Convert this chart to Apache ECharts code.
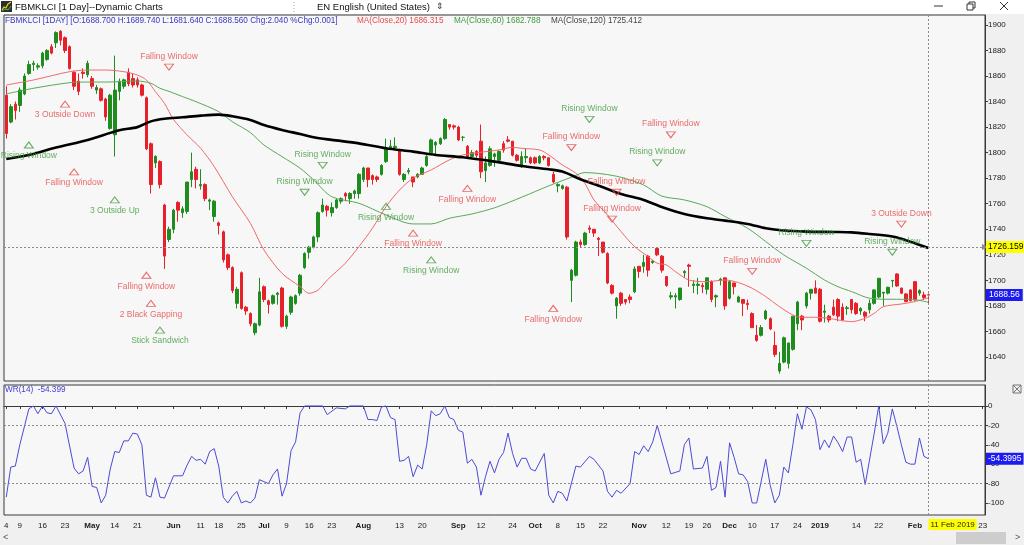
<!DOCTYPE html>
<html><head><meta charset="utf-8">
<script src="https://cdn.jsdelivr.net/npm/echarts@6/dist/echarts.min.js"></script>
<style>html,body{margin:0;padding:0;background:#f0f0f0;}#c{width:1024px;height:545px;}</style>
</head><body><div id="c"></div>
<script>
// daily candles, FBMKLCI Apr 2018 - 11 Feb 2019: [open, high, low, close]
const candles = [
[1845,1852,1811,1815],[1824,1838,1823,1836],[1838,1840,1826,1833],[1837,1851,1832,1849],[1846,1862,1845,1860],
[1862,1872,1861,1869],[1869,1872,1864,1870],[1867,1870,1865,1868],[1868,1879,1866,1878],[1873,1881,1872,1880],
[1883,1885,1877,1878],[1886,1895,1882,1894],[1895,1896,1884,1888],[1890,1891,1878,1880],[1883,1884,1865,1866],
[1863,1864,1849,1852],[1856,1862,1845,1848],[1863,1866,1858,1862],[1861,1872,1859,1870],[1858,1860,1850,1852],
[1849,1853,1846,1851],[1850,1851,1840,1841],[1842,1843,1825,1828],[1819,1846,1818,1845],[1814,1876,1797,1849],
[1848,1858,1841,1856],[1852,1858,1850,1857],[1863,1866,1852,1854],[1858,1862,1851,1853],[1857,1859,1851,1853],
[1853,1854,1844,1845],[1843,1844,1802,1803],[1807,1808,1768,1775],[1792,1798,1788,1797],[1793,1794,1772,1775],
[1759,1760,1709,1719],[1732,1742,1730,1740],[1740,1756,1737,1755],[1761,1762,1746,1755],[1753,1758,1749,1756],
[1754,1777,1752,1777],[1779,1800,1773,1785],[1787,1789,1772,1779],[1774,1787,1771,1775],[1775,1776,1762,1764],
[1762,1764,1755,1763],[1750,1763,1746,1762],[1745,1746,1736,1743],[1738,1739,1714,1716],[1720,1721,1708,1710],
[1710,1711,1690,1692],[1682,1695,1678,1693],[1706,1707,1677,1678],[1679,1680,1673,1676],[1674,1675,1664,1666],
[1659,1667,1657,1666],[1665,1702,1664,1691],[1695,1696,1683,1685],[1684,1685,1674,1681],[1682,1689,1681,1688],
[1689,1691,1681,1690],[1694,1695,1663,1664],[1664,1673,1662,1672],[1675,1688,1673,1687],[1682,1689,1681,1688],
[1690,1705,1688,1704],[1710,1722,1709,1721],[1722,1727,1717,1726],[1726,1735,1725,1734],[1734,1754,1730,1753],
[1754,1764,1753,1759],[1758,1759,1750,1755],[1753,1761,1750,1757],[1757,1764,1756,1763],[1762,1765,1760,1764],
[1768,1769,1762,1766],[1764,1769,1760,1768],[1768,1771,1764,1770],[1768,1784,1764,1783],[1779,1789,1777,1788],
[1788,1788,1773,1779],[1782,1783,1775,1779],[1781,1782,1777,1779],[1783,1791,1782,1790],[1793,1811,1792,1803],
[1804,1810,1803,1805],[1804,1812,1803,1805],[1802,1803,1782,1783],[1779,1784,1777,1783],[1785,1788,1783,1786],
[1781,1781,1773,1777],[1781,1784,1780,1783],[1783,1789,1783,1788],[1790,1798,1789,1797],[1800,1811,1799,1810],
[1806,1809,1798,1808],[1807,1812,1806,1811],[1811,1827,1810,1826],[1822,1822,1818,1820],[1821,1822,1818,1820],
[1820,1821,1809,1810],[1812,1813,1809,1812],[1805,1806,1796,1797],[1797,1802,1796,1800],[1801,1802,1796,1798],
[1809,1822,1780,1785],[1786,1797,1777,1792],[1790,1805,1789,1803],[1797,1800,1789,1799],[1794,1802,1792,1801],
[1807,1809,1800,1802],[1810,1813,1808,1809],[1809,1809,1797,1798],[1798,1799,1793,1794],[1789,1801,1788,1797],
[1796,1803,1792,1797],[1796,1797,1791,1792],[1796,1797,1791,1792],[1792,1798,1791,1797],[1797,1798,1794,1796],
[1796,1796,1789,1790],[1783,1785,1776,1777],[1774,1776,1769,1775],[1772,1775,1771,1774],[1773,1774,1732,1734],
[1700,1709,1683,1708],[1704,1731,1703,1730],[1730,1732,1726,1728],[1728,1738,1727,1737],[1741,1743,1737,1740],
[1740,1740,1734,1737],[1733,1734,1719,1732],[1730,1730,1721,1722],[1721,1722,1697,1698],[1696,1697,1689,1690],
[1680,1687,1670,1686],[1690,1691,1680,1682],[1685,1685,1681,1683],[1687,1689,1682,1685],[1691,1711,1690,1709],
[1711,1711,1702,1707],[1711,1720,1706,1714],[1719,1720,1703,1708],[1714,1716,1713,1715],[1725,1726,1719,1720],
[1719,1720,1706,1708],[1703,1703,1695,1696],[1687,1691,1685,1688],[1687,1690,1678,1688],[1685,1694,1684,1694],
[1706,1708,1702,1707],[1712,1713,1695,1711],[1696,1700,1690,1697],[1696,1702,1689,1697],[1696,1698,1690,1695],
[1693,1702,1689,1702],[1699,1700,1683,1685],[1687,1689,1679,1688],[1700,1702,1696,1701],[1702,1702,1677,1680],
[1686,1700,1685,1699],[1698,1698,1689,1695],[1683,1688,1683,1687],[1685,1685,1672,1682],[1682,1685,1677,1681],
[1674,1675,1663,1663],[1657,1665,1652,1653],[1657,1665,1656,1663],[1670,1677,1669,1676],[1670,1671,1661,1662],
[1649,1660,1640,1642],[1629,1644,1627,1635],[1636,1656,1635,1655],[1635,1651,1631,1651],[1646,1672,1645,1672],
[1666,1684,1661,1683],[1672,1673,1661,1669],[1680,1691,1678,1690],[1690,1693,1685,1693],[1694,1700,1690,1690],
[1693,1694,1667,1668],[1675,1681,1667,1676],[1672,1673,1667,1669],[1679,1685,1672,1673],[1685,1686,1668,1672],
[1679,1682,1668,1669],[1678,1680,1673,1678.5],[1685,1685,1674,1677],[1682,1683,1673,1674],[1676,1679,1673,1678],
[1675,1676,1668,1672],[1677,1685,1674,1682],[1682,1693,1681,1692.5],[1687,1702,1686,1701.6],[1690,1691,1680,1690.6],
[1690,1695,1689,1694.6],[1699.6,1700.3,1694.6,1700],[1705,1705.5,1695,1695.6],[1694,1694.2,1689.4,1690],[1689.4,1690,1683,1683.4],
[1692.5,1693,1683.5,1684.1],[1699,1699.5,1684.2,1684.7],[1690,1693,1688,1692],[1688.6,1691.2,1684.7,1686.52],[1688.70,1689.74,1681.64,1688.56]
];
// moving averages: [candle index, value]
const ma20 = [[0,1853],[6,1856.9],[14,1863.4],[18,1864.7],[22,1864.7],[26,1863.4],[29,1860.8],[31,1856.9],[33,1847.8],[35,1838.6],[37,1826],[40,1813.9],[43,1803.4],[46,1789.1],[50,1765.6],[54,1744.7],[57,1723.8],[61,1705.5],[65,1695.1],[67,1689.9],[69,1692.5],[71,1700.3],[73,1706.8],[75,1713.4],[78,1726.4],[81,1740.8],[84,1757.7],[87,1770.8],[90,1780],[94,1786.5],[98,1794.3],[101,1798.2],[106,1800.8],[109,1802.1],[112,1804.2],[114,1803.4],[118,1802.1],[120,1798.2],[123,1790.4],[126,1783.9],[128,1776],[130,1763],[133,1751.2],[136,1738.2],[139,1726.4],[142,1718.6],[144,1713.4],[146,1712.1],[148,1706.9],[151,1700.3],[155,1699],[159,1700.3],[162,1698.2],[165,1693.8],[168,1687.3],[171,1679.5],[174,1672.9],[176,1671.1],[179,1671.1],[182,1670.3],[184,1669],[187,1667.7],[190,1670.3],[192,1674.2],[194,1679.4],[198,1681.5],[201,1683.4],[204,1686.315]];
const ma60 = [[0,1846],[6,1850.4],[14,1854.8],[18,1855.3],[22,1855.3],[29,1856.1],[32,1854.3],[34,1850.4],[36,1848],[39,1843.9],[42,1839.9],[47,1832.1],[50,1824.3],[54,1815.7],[57,1806],[61,1796.9],[65,1787.8],[68,1778.6],[72,1765.5],[78,1760.4],[84,1751.2],[90,1744.2],[94,1744.2],[98,1748.6],[103,1752],[108,1756.8],[114,1765.1],[120,1774],[125,1780.7],[128,1784.4],[132,1783.3],[136,1780.7],[141,1774.7],[145,1766],[150,1763],[155,1757.7],[159,1750],[164,1740.8],[168,1730.4],[172,1719.9],[177,1709.5],[181,1700.3],[184,1695],[187,1691.2],[191,1686],[196,1685.2],[200,1685.2],[204,1682.788]];
const ma120 = [[0,1795],[6,1799],[11,1804],[18,1810],[25,1817.5],[29,1820],[32,1824.5],[35,1826.5],[39,1827.7],[43,1829],[47,1829.8],[50,1828.5],[54,1825.6],[57,1821.7],[61,1817.8],[65,1814.6],[68,1812],[72,1810],[78,1807.3],[84,1803.4],[90,1800.8],[95,1798.2],[101,1796.4],[108,1793],[114,1789.6],[120,1787],[123,1785.2],[127,1779.2],[132,1772.9],[136,1767.7],[141,1763],[145,1757.5],[150,1752],[155,1748.6],[159,1746.8],[164,1744.2],[168,1740.8],[172,1739],[177,1738.2],[183,1737.9],[187,1737.6],[191,1736.3],[196,1734.3],[200,1730.3],[204,1725.412]];
// Williams %R (14)
const wr14 = [[0,-94],[1,-63],[2,-62],[3,-40],[5,-3],[6,0],[7,-8],[8,0],[9,-7],[10,-8],[11,0],[13,-18],[15,-64],[16,-70],[17,-67],[18,-53],[19,-83],[20,-84],[21,-100],[22,-92],[23,-65],[24,-47],[25,-48],[26,-36],[27,-36],[28,-28],[29,-29],[30,-40],[31,-92],[32,-94],[33,-74],[34,-94],[35,-95],[37,-72],[39,-72],[40,-61],[41,-52],[42,-56],[43,-55],[44,-60],[45,-47],[46,-44],[47,-62],[48,-94],[49,-100],[50,-93],[51,-88],[52,-100],[53,-98],[54,-100],[55,-95],[56,-76],[57,-78],[58,-80],[59,-71],[60,-65],[61,-93],[62,-80],[63,-46],[64,-37],[65,-7],[66,0],[70,0],[71,-9],[73,-2],[75,-3],[76,0],[79,0],[80,-14],[81,-14],[82,-15],[83,-1],[84,0],[85,-12],[86,-14],[87,-57],[88,-56],[89,-52],[90,-73],[91,-61],[92,-65],[93,-40],[94,-5],[95,-10],[96,-8],[97,0],[98,-12],[99,-14],[100,-25],[101,-27],[102,-59],[103,-55],[104,-63],[105,-92],[106,-73],[107,-57],[108,-69],[109,-55],[110,-48],[111,-28],[112,-49],[113,-63],[114,-54],[115,-54],[116,-65],[117,-67],[119,-49],[120,-92],[121,-100],[122,-88],[123,-90],[124,-98],[126,-62],[127,-63],[129,-52],[130,-55],[132,-67],[133,-88],[134,-94],[135,-87],[136,-90],[138,-80],[139,-47],[140,-50],[141,-41],[142,-47],[143,-37],[144,-20],[147,-70],[149,-67],[150,-40],[151,-33],[152,-65],[154,-64],[155,-52],[156,-87],[157,-84],[158,-57],[159,-94],[160,-38],[161,-53],[162,-70],[163,-71],[164,-78],[165,-100],[166,-100],[168,-55],[169,-82],[170,-100],[171,-92],[172,-63],[173,-69],[174,-40],[175,-8],[176,-24],[177,-1],[178,-4],[179,-14],[180,-45],[181,-35],[182,-43],[183,-31],[184,-38],[185,-47],[186,-32],[187,-32],[188,-58],[189,-55],[190,-81],[192,-28],[193,0],[194,-39],[195,-28],[196,-3],[197,-21],[198,-40],[199,-58],[200,-60],[201,-60],[202,-33],[203,-52],[204,-54.3995]];
// candlestick pattern marks: [name, candle index, price, bullish, direction(1 = below bar, -1 = above bar)]
const patterns = [
['Rising Window',5,1806,1,1],['3 Outside Down',13,1838,0,1],['Falling Window',15,1785,0,1],['3 Outside Up',24,1763,1,1],
['Falling Window',36,1867,0,-1],['Falling Window',31,1704,0,1],['2 Black Gapping',32,1682,0,1],['Stick Sandwich',34,1661,1,1],
['Rising Window',70,1790,1,-1],['Rising Window',66,1769,1,-1],['Rising Window',84,1758,1,1],['Falling Window',90,1737,0,1],
['Rising Window',94,1716,1,1],['Falling Window',102,1772,0,1],['Rising Window',129,1826,1,-1],['Falling Window',125,1804,0,-1],
['Falling Window',147,1814,0,-1],['Rising Window',144,1792,1,-1],['Falling Window',135,1769,0,-1],['Falling Window',134,1748,0,-1],
['Falling Window',121,1678,0,1],['Falling Window',165,1707,0,-1],['Rising Window',177,1729,1,-1],['3 Outside Down',198,1744,0,-1],
['Rising Window',196,1722,1,-1]
];
const tickIdx  = [0,3,8,13,19,24,29,37,43,47,52,57,62,67,72,79,87,92,100,105,112,117,122,127,132,140,146,151,155,160,165,170,175,180,188,193,201,216];
const tickText = ['4','9','16','23','May','14','21','Jun','11','18','25','Jul','9','16','23','Aug','13','20','Sep','12','24','Oct','8','15','22','Nov','12','19','26','Dec','10','17','24','2019','14','22','Feb','23'];
const boldTicks = ['May','Jun','Jul','Aug','Sep','Oct','Nov','Dec','2019','Feb'];
const priceTicks = [1640,1660,1680,1700,1720,1740,1760,1780,1800,1820,1840,1860,1880,1900];
const wrTicks = [0,-20,-40,-60,-80,-100];
const slotCount = 217;
const cursorIndex = 204, cursorDate = '11 Feb 2019', cursorPrice = 1726.159;

const FONT = '"Liberation Sans", Arial, sans-serif';
const UP = '#1f8c1f', DOWN = '#e8202a', PRED = '#e5484a', PGREEN = '#3d9a3d';
const cats = Array.from({length: slotCount}, (_, i) => i);
const last = candles[candles.length - 1], prev = candles[candles.length - 2];
const chg = last[3] - prev[3];
const f3 = v => (Math.trunc(Math.round(v * 10000) / 10) / 1000).toFixed(3);
const headerText = `FBMKLCI [1DAY] [O:${f3(last[0])} H:${f3(last[1])} L:${f3(last[2])} C:${f3(last[3])} Chg:${f3(chg)} %Chg:${f3(chg / prev[3])}]`;
const lastOf = a => a[a.length - 1][1];
const wrLast = lastOf(wr14);

function endMark(arr, color) {
  return arr.map((p, i) => i === arr.length - 1 ? {value: p, symbol: 'emptyCircle', symbolSize: 4, itemStyle: {color: color, borderColor: color}} : p);
}
const patternData = patterns.map(p => {
  const col = p[3] ? PGREEN : PRED, up = p[4] > 0;
  return {value: [p[1], p[2]], name: p[0], symbolRotate: up ? 0 : 180,
    itemStyle: {color: 'rgba(0,0,0,0)', borderColor: col, borderWidth: 1},
    label: {show: true, position: up ? 'bottom' : 'top', distance: 3, color: col, formatter: p[0], fontSize: 8.5, fontFamily: FONT}};
});
const dash = {color: '#8a8a8a', type: [2, 2], width: 1};
const txt = (x, y, text, fill, size, extra) => Object.assign({type: 'text', x: x, y: y, silent: true,
  style: {text: text, fill: fill, fontSize: size || 8.3, fontFamily: FONT, align: 'left', verticalAlign: 'middle'}}, extra || {});

const chart = echarts.init(document.getElementById('c'));
chart.setOption({
  animation: false,
  backgroundColor: '#f0f0f0',
  grid: [
    {left: 4, top: 15, width: 981, height: 366, show: true, backgroundColor: '#f7f7f7', borderColor: '#3a3a3a', borderWidth: 1},
    {left: 4, top: 385, width: 981, height: 130, show: true, backgroundColor: '#f7f7f7', borderColor: '#3a3a3a', borderWidth: 1}
  ],
  xAxis: [
    {type: 'category', gridIndex: 0, data: cats, boundaryGap: true, axisLine: {show: false}, axisTick: {show: false}, axisLabel: {show: false}, splitLine: {show: false}},
    {type: 'category', gridIndex: 1, data: cats, boundaryGap: true,
      axisLine: {show: true, lineStyle: {color: '#3a3a3a'}},
      axisTick: {show: true, length: 3, alignWithLabel: true, interval: i => tickIdx.includes(i), lineStyle: {color: '#3a3a3a'}},
      axisLabel: {interval: i => tickIdx.includes(i), margin: 7, fontSize: 8, fontFamily: FONT, color: '#1a1a1a',
        formatter: (v, i) => { const t = tickText[tickIdx.indexOf(i)]; return t === undefined ? '' : (boldTicks.includes(t) ? '{b|' + t + '}' : t); },
        rich: {b: {fontWeight: 'bold', fontSize: 8, fontFamily: FONT, color: '#1a1a1a'}}},
      splitLine: {show: false}}
  ],
  yAxis: [
    {type: 'value', gridIndex: 0, position: 'right', min: 1621.2, max: 1907.8, scale: true, splitLine: {show: false},
      axisLine: {show: true, lineStyle: {color: '#3a3a3a'}},
      axisTick: {show: true, length: 3, customValues: priceTicks, lineStyle: {color: '#3a3a3a'}},
      axisLabel: {customValues: priceTicks, formatter: v => String(v), fontSize: 8, fontFamily: FONT, color: '#1a1a1a', margin: 3}},
    {type: 'value', gridIndex: 1, position: 'right', min: -112.4, max: 21.6, splitLine: {show: false},
      axisLine: {show: true, lineStyle: {color: '#3a3a3a'}},
      axisTick: {show: true, length: 3, customValues: wrTicks, lineStyle: {color: '#3a3a3a'}},
      axisLabel: {customValues: wrTicks, formatter: v => String(v), fontSize: 8, fontFamily: FONT, color: '#1a1a1a', margin: 3}}
  ],
  series: [
    {type: 'candlestick', name: 'FBMKLCI', xAxisIndex: 0, yAxisIndex: 0, barWidth: 3,
      data: candles.map(c => [c[0], c[3], c[2], c[1]]),
      itemStyle: {color: UP, color0: DOWN, borderColor: UP, borderColor0: DOWN, borderWidth: 1},
      markLine: {silent: true, symbol: ['none', 'none'], animation: false,
        data: [
          {xAxis: cursorIndex, lineStyle: dash, label: {show: false}},
          {yAxis: last[3], lineStyle: {color: 'rgba(0,0,0,0)'}, label: {show: true, position: 'end', distance: 1, formatter: last[3].toFixed(2),
            backgroundColor: '#1c1cf0', color: '#fff', padding: [2, 3, 1, 3], fontSize: 8.5, fontFamily: FONT}}
        ]}},
    {type: 'line', name: 'MA20', xAxisIndex: 0, yAxisIndex: 0, data: endMark(ma20, '#4a4ae0'), symbol: 'none', smooth: 0.3,
      lineStyle: {color: '#f06a6a', width: 1}, itemStyle: {color: '#f06a6a'}},
    {type: 'line', name: 'MA60', xAxisIndex: 0, yAxisIndex: 0, data: endMark(ma60, '#4aa04a'), symbol: 'none', smooth: 0.3,
      lineStyle: {color: '#5aa85a', width: 1}, itemStyle: {color: '#5aa85a'}},
    {type: 'line', name: 'MA120', xAxisIndex: 0, yAxisIndex: 0, data: endMark(ma120, '#555'), symbol: 'none', smooth: 0.3,
      lineStyle: {color: '#000', width: 2.6}, itemStyle: {color: '#000'},
      markLine: {silent: true, symbol: ['none', 'triangle'], symbolSize: 6, animation: false,
        data: [{yAxis: cursorPrice, lineStyle: dash, label: {show: true, position: 'end', distance: 1, formatter: cursorPrice.toFixed(3),
          backgroundColor: '#ffff00', color: '#000', padding: [2, 2, 1, 2], fontSize: 8.5, fontFamily: FONT}}]}},
    {type: 'scatter', name: 'Patterns', xAxisIndex: 0, yAxisIndex: 0, symbol: 'triangle', symbolSize: [9, 6], data: patternData, z: 5},
    {type: 'line', name: 'WR(14)', xAxisIndex: 1, yAxisIndex: 1, data: endMark(wr14, '#4a4ae0'), symbol: 'none',
      lineStyle: {color: '#4b4bd6', width: 1}, itemStyle: {color: '#4b4bd6'},
      markLine: {silent: true, symbol: ['none', 'none'], animation: false,
        data: [
          {yAxis: -20, lineStyle: dash, label: {show: false}},
          {yAxis: -80, lineStyle: dash, label: {show: false}},
          {xAxis: cursorIndex, lineStyle: dash, label: {show: true, position: 'start', distance: 4, formatter: cursorDate, align: 'left',
            backgroundColor: '#ffff00', color: '#222', padding: [2, 2, 1, 2], fontSize: 8, fontFamily: FONT}},
          {yAxis: wrLast, lineStyle: {color: 'rgba(0,0,0,0)'}, label: {show: true, position: 'end', distance: 1, formatter: String(wrLast),
            backgroundColor: '#1c1cf0', color: '#fff', padding: [2, 2, 1, 2], fontSize: 8.5, fontFamily: FONT}}
        ]}}
  ],
  graphic: [
    {type: 'rect', shape: {x: 0, y: 0, width: 1024, height: 14}, style: {fill: '#ffffff'}, silent: true},
    {type: 'rect', shape: {x: 1, y: 1, width: 11, height: 11}, style: {fill: '#2e2e2e'}, silent: true},
    {type: 'polyline', shape: {points: [[2, 10], [4, 7], [6, 8], [8, 4], [11, 2]]}, style: {stroke: '#f2d21a', lineWidth: 1.2, fill: null}, silent: true},
    {type: 'polyline', shape: {points: [[2, 11], [5, 9], [8, 10], [11, 6]]}, style: {stroke: '#3cc03c', lineWidth: 1, fill: null}, silent: true},
    txt(15, 7, 'FBMKLCI [1 Day]--Dynamic Charts', '#111', 9.5),
    {type: 'line', shape: {x1: 294, y1: 2, x2: 294, y2: 13}, style: {stroke: '#aaa', lineDash: [1, 2]}, silent: true},
    txt(317, 7, 'EN English (United States)', '#111', 9.5),
    txt(436, 7, '⇕', '#333', 9, {}),
    {type: 'line', shape: {x1: 934, y1: 6, x2: 943, y2: 6}, style: {stroke: '#333', lineWidth: 1}, silent: true},
    {type: 'rect', shape: {x: 967, y: 4, width: 6, height: 6}, style: {stroke: '#333', fill: null, lineWidth: 1}, silent: true},
    {type: 'polyline', shape: {points: [[969, 4], [969, 2], [975, 2], [975, 8], [973, 8]]}, style: {stroke: '#333', fill: null, lineWidth: 1}, silent: true},
    {type: 'line', shape: {x1: 1000, y1: 2, x2: 1008, y2: 10}, style: {stroke: '#333', lineWidth: 1}, silent: true},
    {type: 'line', shape: {x1: 1008, y1: 2, x2: 1000, y2: 10}, style: {stroke: '#333', lineWidth: 1}, silent: true},
    txt(5, 20.5, headerText, '#3535c8', 8.2),
    txt(357, 20.5, 'MA(Close,20) ' + f3(lastOf(ma20)), '#e84a4a', 8.2),
    txt(454, 20.5, 'MA(Close,60) ' + f3(lastOf(ma60)), '#3f9a3f', 8.2),
    txt(551, 20.5, 'MA(Close,120) ' + f3(lastOf(ma120)), '#444', 8.2),
    txt(5, 390, 'WR(14)  ' + f3(wrLast), '#4040d0', 8.2),
    {type: 'rect', shape: {x: 1013, y: 385, width: 8, height: 8}, style: {stroke: '#777', fill: null, lineWidth: 1}, silent: true},
    {type: 'line', shape: {x1: 1013, y1: 385, x2: 1021, y2: 393}, style: {stroke: '#777', lineWidth: 1}, silent: true},
    {type: 'line', shape: {x1: 1021, y1: 385, x2: 1013, y2: 393}, style: {stroke: '#777', lineWidth: 1}, silent: true},
    {type: 'rect', shape: {x: 956, y: 532, width: 50, height: 12}, style: {fill: '#cdcdcd'}, silent: true},
    txt(3, 538, '<', '#555', 9),
    txt(1015, 538, '>', '#555', 9)
  ]
});
</script>
</body></html>
